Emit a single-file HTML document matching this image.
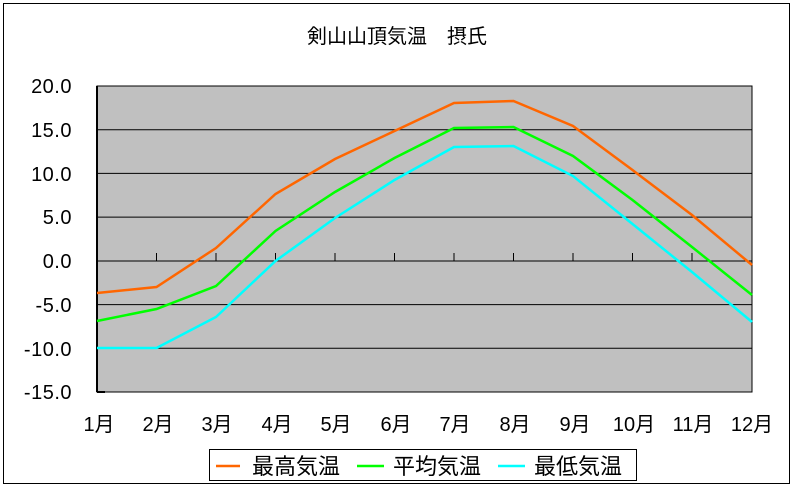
<!DOCTYPE html>
<html><head><meta charset="utf-8"><style>
body{margin:0;background:#fff;}
svg{display:block;font-family:"Liberation Sans","Noto Sans CJK JP",sans-serif;}
</style></head><body>
<svg width="794" height="492" viewBox="0 0 794 492">
<rect x="0" y="0" width="794" height="492" fill="#fff"/>
<rect x="3.5" y="3.5" width="786" height="480" fill="#fff" stroke="#000" stroke-width="1"/>
<text x="397" y="43" font-size="20" text-anchor="middle">剣山山頂気温　摂氏</text>
<rect x="97" y="86" width="655" height="306" fill="#c0c0c0" stroke="#000" stroke-width="1"/>
<g stroke="#000" stroke-width="1">
<line x1="97" y1="129.7" x2="752" y2="129.7"/>
<line x1="97" y1="173.4" x2="752" y2="173.4"/>
<line x1="97" y1="217.1" x2="752" y2="217.1"/>
<line x1="97" y1="261" x2="752" y2="261"/>
<line x1="97" y1="304.6" x2="752" y2="304.6"/>
<line x1="97" y1="348.3" x2="752" y2="348.3"/>
<line x1="97" y1="86" x2="97" y2="392" stroke-width="2"/>
<line x1="97" y1="392" x2="105" y2="392" stroke-width="2"/>
</g>
<g stroke="#000" stroke-width="1">
<line x1="156.5" y1="253" x2="156.5" y2="261"/><line x1="216" y1="253" x2="216" y2="261"/>
<line x1="275.5" y1="253" x2="275.5" y2="261"/><line x1="335" y1="253" x2="335" y2="261"/>
<line x1="394.5" y1="253" x2="394.5" y2="261"/><line x1="454" y1="253" x2="454" y2="261"/>
<line x1="513.5" y1="253" x2="513.5" y2="261"/><line x1="573" y1="253" x2="573" y2="261"/>
<line x1="632.5" y1="253" x2="632.5" y2="261"/><line x1="692" y1="253" x2="692" y2="261"/>
</g>
<g font-size="20" text-anchor="end" letter-spacing="0.5">
<text x="72" y="93">20.0</text><text x="72" y="137">15.0</text><text x="72" y="181">10.0</text>
<text x="72" y="224">5.0</text><text x="72" y="268">0.0</text><text x="72" y="312">-5.0</text>
<text x="72" y="356">-10.0</text><text x="72" y="399">-15.0</text>
</g>
<g font-size="20" text-anchor="middle">
<text x="99" y="431">1月</text><text x="158" y="431">2月</text><text x="217" y="431">3月</text>
<text x="277" y="431">4月</text><text x="336" y="431">5月</text><text x="396" y="431">6月</text>
<text x="455" y="431">7月</text><text x="515" y="431">8月</text><text x="575" y="431">9月</text>
<text x="634" y="431">10月</text><text x="693" y="431">11月</text><text x="752" y="431">12月</text>
</g>
<g fill="none" stroke-width="2.5">
<polyline stroke="#ff6600" points="97,293 156.5,287 216,248 275.5,194 335,159 394.5,131 454,103 513.5,101 573,126 632.5,170 692,215 752,265"/>
<polyline stroke="#00ff00" points="97,321 156.5,309 216,286 275.5,231 335,192 394.5,158 454,128 513.5,127 573,156 632.5,200 692,247 752,295"/>
<polyline stroke="#00ffff" points="97,348 156.5,348 216,317 275.5,261 335,218 394.5,180 454,147 513.5,146 573,176 632.5,224 692,272 752,322"/>
</g>
<rect x="209.5" y="449.5" width="427" height="31" fill="#fff" stroke="#000" stroke-width="1"/>
<g stroke-width="2.5">
<line x1="216" y1="466" x2="240" y2="466" stroke="#ff6600"/>
<line x1="357" y1="466" x2="384" y2="466" stroke="#00ff00"/>
<line x1="498" y1="466" x2="525" y2="466" stroke="#00ffff"/>
</g>
<g font-size="22">
<text x="252" y="474">最高気温</text><text x="393" y="474">平均気温</text><text x="534" y="474">最低気温</text>
</g>
</svg>
</body></html>
